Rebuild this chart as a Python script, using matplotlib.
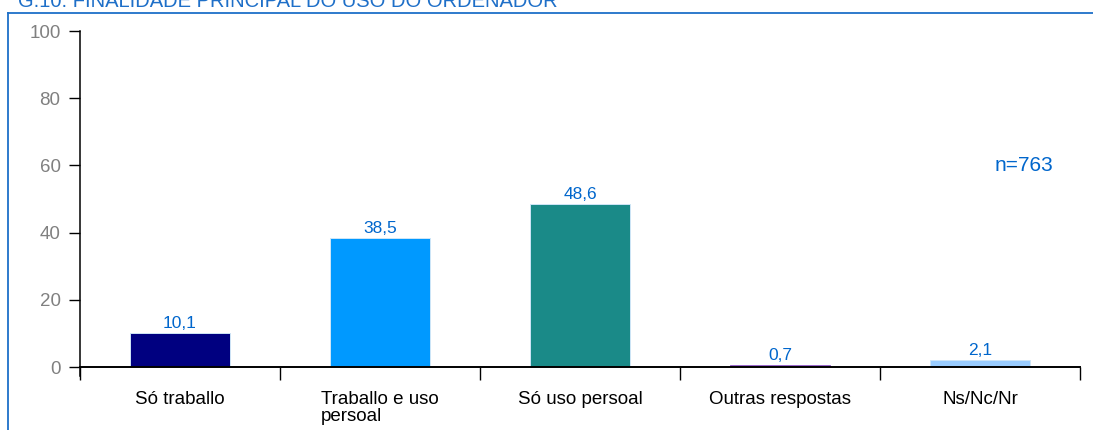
import matplotlib.pyplot as plt
from matplotlib.lines import Line2D

plt.rcParams['font.family'] = ['Liberation Sans', 'DejaVu Sans']

categories = ['Só traballo', 'Traballo e uso\npersoal', 'Só uso persoal',
              'Outras respostas', 'Ns/Nc/Nr']
values = [10.1, 38.5, 48.6, 0.7, 2.1]
colors = ['#000080', '#0099FF', '#1A8A88', '#9966CC', '#99CCFF']
title = 'G.10: FINALIDADE PRINCIPAL DO USO DO ORDENADOR'
note = 'n=763'

W, H = 1093, 430
fig = plt.figure(figsize=(W / 100, H / 100), dpi=100)
ax = fig.add_axes([80 / W, 1 - 367 / H, 1000 / W, 336 / H])

x = list(range(len(values)))
edges = ['#CFE6F7', '#CFE6F7', '#CFE6F7', '#9966CC', '#CFE6F7']
ax.bar(x, values, width=0.5, color=colors, edgecolor=edges, linewidth=0.7)
for xi, v in zip(x, values):
    ax.text(xi, v + 0.6, f'{v:.1f}'.replace('.', ','), ha='center', va='bottom',
            color='#0066CC', fontsize=12.5)

ax.set_xlim(-0.5, len(values) - 0.5)
ax.set_ylim(0, 100)
ax.set_yticks([0, 20, 40, 60, 80, 100])
ax.tick_params(axis='y', direction='out', length=8, width=1, colors='black',
               labelcolor='#808080', labelsize=13.5, pad=6)

# category labels centred, ticks at the boundaries
ax.set_xticks([i - 0.5 for i in range(len(values) + 1)])
ax.set_xticklabels([])
ax.set_xticks(x, minor=True)
ax.set_xticklabels(categories, minor=True, fontsize=13.5, va='top',
                   multialignment='left', linespacing=1.05)
ax.tick_params(axis='x', which='major', direction='out', length=9, width=1)
ax.tick_params(axis='x', which='minor', length=0, pad=17)

for s in ['top', 'right']:
    ax.spines[s].set_visible(False)
ax.spines['left'].set_bounds(0, 100)
ax.spines['bottom'].set_linewidth(1.4)
ax.spines['left'].set_linewidth(1.1)
# y axis runs slightly below zero
ax.plot([-0.5, -0.5], [0, -2.7], color='black', lw=1.1, clip_on=False)

ax.text(0.973, 0.6, note, transform=ax.transAxes, ha='right', va='center',
        color='#0066CC', fontsize=15)

# frame and clipped title
fig.add_artist(Line2D([8 / W, 8 / W], [0, 1 - 13 / H], color='#1E6FC8', lw=1.3))
fig.add_artist(Line2D([8 / W, 1], [1 - 13 / H, 1 - 13 / H], color='#1E6FC8', lw=1.3))
fig.text(18 / W, 1 - 7 / H, title, color='#1E6FC8', fontsize=14.5,
         ha='left', va='baseline')

fig.savefig('out.png', dpi=100)
